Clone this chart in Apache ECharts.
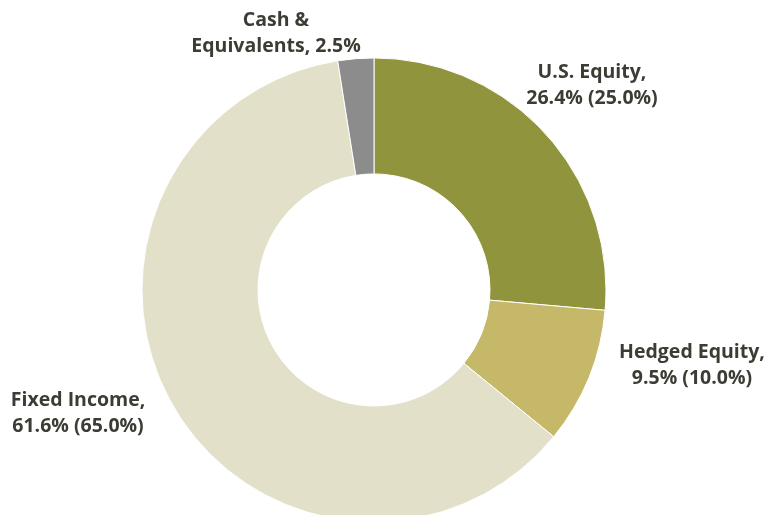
<!DOCTYPE html>
<html>
<head>
<meta charset="utf-8">
<script src="https://cdn.jsdelivr.net/npm/echarts@6/dist/echarts.min.js"></script>
<style>
  html, body { margin: 0; padding: 0; background: #fff; }
  #chart { width: 767px; height: 515px; }
</style>
</head>
<body>
<div id="chart"></div>
<script>
  var names = ['U.S. Equity', 'Hedged Equity', 'Fixed Income', 'Cash & Equivalents'];
  var actual = [26.4, 9.5, 61.6, 2.5];
  var target = ['25.0%', '10.0%', '65.0%', null];
  var labels = [
    'U.S. Equity,\n26.4% (25.0%)',
    'Hedged Equity,\n9.5% (10.0%)',
    'Fixed Income,\n61.6% (65.0%)',
    'Cash &\nEquivalents, 2.5%'
  ];
  var colors = ['#8f943d', '#c5b868', '#e3e0c9', '#8b8c8b'];

  // where each label sits (center of text block)
  var labelPos = [[592, 85], [692, 365], [78, 413], [276, 33]];

  var chart = echarts.init(document.getElementById('chart'));
  var option = {
    animation: false,
    color: colors,
    series: [
      {
        type: 'pie',
        center: ['48.76%', '56.3%'],
        radius: [116, 232],
        startAngle: 90,
        clockwise: true,
        silent: true,
        itemStyle: {
          borderColor: '#ffffff',
          borderWidth: 1
        },
        label: {
          show: true,
          position: 'outside',
          formatter: function (p) {
            return labels[p.dataIndex];
          },
          color: '#3a3d34',
          fontFamily: 'Open Sans',
          fontWeight: 'bold',
          fontSize: 19.5,
          lineHeight: 26,
          align: 'center',
          overflow: 'none'
        },
        labelLine: { show: false },
        labelLayout: function (params) {
          var pos = labelPos[params.dataIndex];
          return {
            x: pos[0],
            y: pos[1],
            align: 'center',
            verticalAlign: 'middle'
          };
        },
        data: names.map(function (n, i) {
          return { name: n, value: actual[i] };
        })
      }
    ]
  };
  chart.setOption(option);
</script>
</body>
</html>
